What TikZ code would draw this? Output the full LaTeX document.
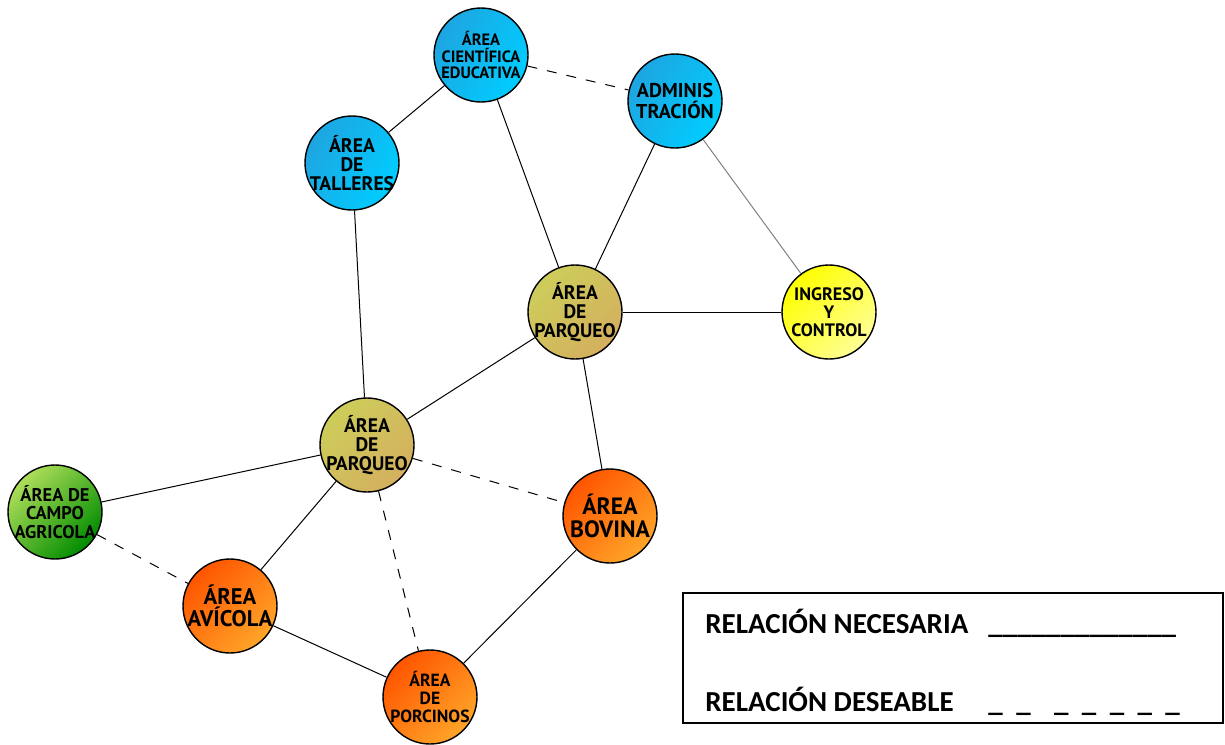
\documentclass[tikz,border=0pt]{standalone}
\usepackage{fontspec}
\newfontfamily\areafont{PT Sans}
\newfontfamily\leyfont{Carlito}
\usetikzlibrary{calc}

\definecolor{azulA}{RGB}{30,165,225}
\definecolor{azulB}{RGB}{0,205,255}
\definecolor{olivaA}{RGB}{205,205,90}
\definecolor{olivaB}{RGB}{212,175,95}
\definecolor{amarA}{RGB}{255,255,0}
\definecolor{amarB}{RGB}{255,255,150}
\definecolor{verdeA}{RGB}{175,222,90}
\definecolor{verdeB}{RGB}{0,140,0}
\definecolor{naranjaA}{RGB}{255,85,0}
\definecolor{naranjaB}{RGB}{255,165,40}

\newcommand{\letra}[2]{\areafont\bfseries\fontsize{#1}{#2}\selectfont}

\tikzset{
  area/.style={circle, draw=black, line width=0.7pt, minimum size=47pt, inner sep=-5pt,
    align=center, font=\letra{9.8}{9.6}},
  azul/.style={left color=azulA, right color=azulB, shading angle=60},
  oliva/.style={left color=olivaA, right color=olivaB, shading angle=45},
  amarillo/.style={left color=amarA, right color=amarB, shading angle=45},
  verde/.style={left color=verdeA, right color=verdeB, shading angle=45},
  naranja/.style={left color=naranjaA, right color=naranjaB, shading angle=45},
  necesaria/.style={line width=0.5pt},
  deseable/.style={line width=0.5pt, dash pattern=on 5pt off 5pt},
  leyenda/.style={font=\leyfont\bfseries\fontsize{14.5}{16}\selectfont, anchor=base west, inner sep=0pt}
}

\begin{document}
\begin{tikzpicture}[x=0.5pt, y=-0.5pt]
    \useasboundingbox (0,0) rectangle (1225,744);
    % zonas
    \node[area,azul,font=\letra{8.2}{8.2}] (ace) at (481,55) {ÁREA\\CIENTÍFICA\\EDUCATIVA};
    \node[area,azul,font=\letra{10}{10.2}] (adm) at (675,101) {ADMINIS\\TRACIÓN};
    \node[area,azul] (tall) at (352,163) {ÁREA\\DE\\TALLERES};
    \node[area,oliva] (parq1) at (575,312) {ÁREA\\DE\\PARQUEO};
    \node[area,amarillo,font=\letra{9}{9}] (ing) at (829,312) {INGRESO\\Y\\CONTROL};
    \node[area,oliva] (parq2) at (367,445) {ÁREA\\DE\\PARQUEO};
    \node[area,verde,font=\letra{9.2}{9.2}] (campo) at (55,512) {ÁREA DE\\CAMPO\\AGRICOLA};
    \node[area,naranja,font=\letra{11.3}{11.3}] (avi) at (230,606) {ÁREA\\AVÍCOLA};
    \node[area,naranja,font=\letra{11.8}{11.8}] (bov) at (610,516) {ÁREA\\BOVINA};
    \node[area,naranja,font=\letra{8.8}{9}] (porc) at (430,697) {ÁREA\\DE\\PORCINOS};
    % relaciones
    \draw[necesaria] (ace) -- (tall);
    \draw[necesaria] (ace) -- (parq1);
    \draw[necesaria] (adm) -- (parq1);
    \draw[necesaria,gray] (adm) -- (ing);
    \draw[necesaria] (parq1) -- (ing);
    \draw[necesaria] (tall) -- (parq2);
    \draw[necesaria] (parq1) -- (parq2);
    \draw[necesaria] (parq1) -- (bov);
    \draw[necesaria] (parq2) -- (campo);
    \draw[necesaria] (parq2) -- (avi);
    \draw[necesaria] (avi) -- (porc);
    \draw[necesaria] (porc) -- (bov);
    \draw[deseable] (ace) -- (adm);
    \draw[deseable] (parq2) -- (bov);
    \draw[deseable] (parq2) -- (porc);
    \draw[deseable] (campo) -- (avi);
    % leyenda
    \draw[line width=1pt] (683,593) rectangle (1223,723);
    \node[leyenda] (nec) at (705,633) {RELACIÓN NECESARIA};
    \node[leyenda] (des) at (705,711) {RELACIÓN DESEABLE};
    \node[leyenda] (lnec) at (988,633) {\_\_\_\_\_\_\_\_\_\_\_\_\_};
    \node[leyenda] (ldes) at (988,711) {\_\hspace{6.7pt}\_\hspace{11.7pt}\_\hspace{6.7pt}\_\hspace{6.7pt}\_\hspace{6.7pt}\_\hspace{6.7pt}\_};
\end{tikzpicture}
\end{document}
